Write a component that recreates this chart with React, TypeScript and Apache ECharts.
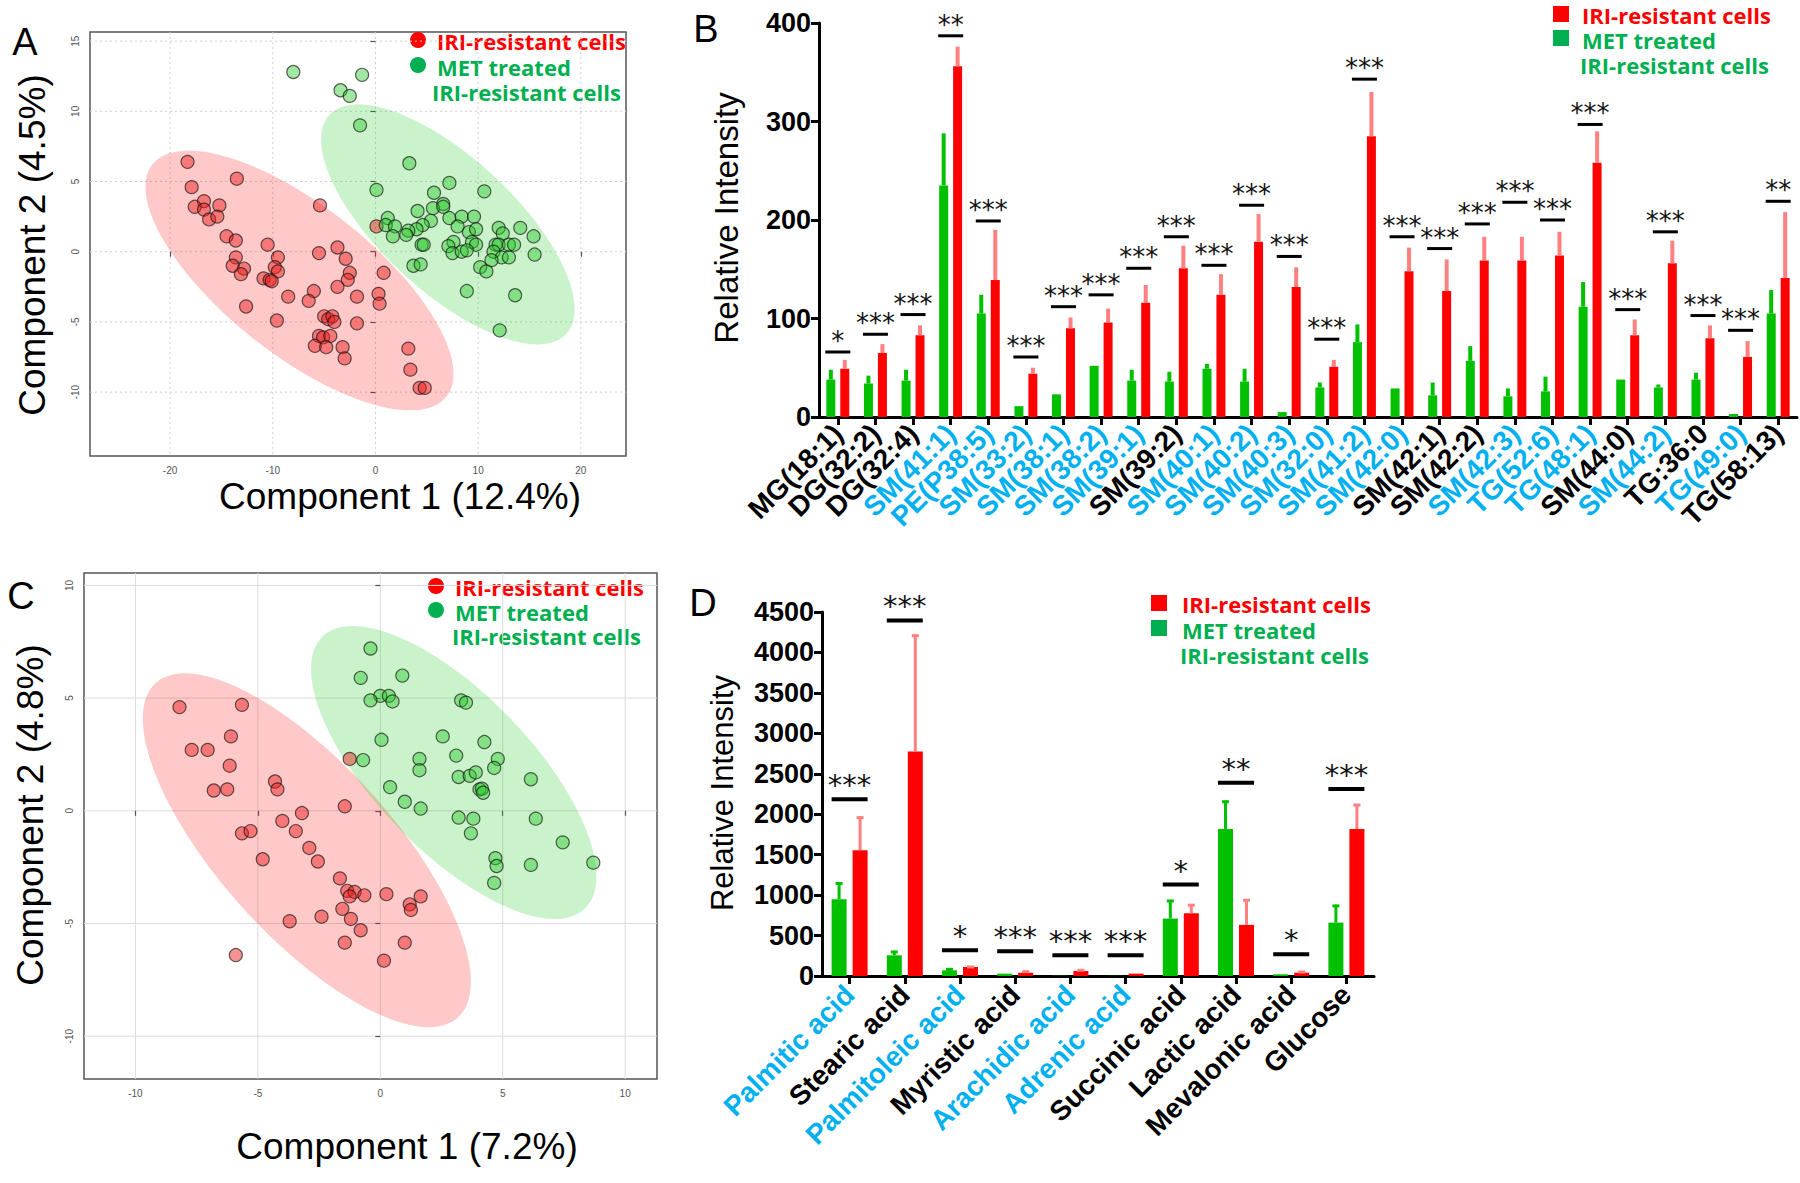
import React, { useEffect, useRef } from "react";
import * as echarts from "echarts";

// ---------- Panel A (PCA, lipids) ----------
const pcaARed: number[][] = [
  [-18.3, 6.4], [-13.5, 5.2], [-17.9, 4.6], [-16.7, 3.6], [-15.2, 3.3], [-17.6, 3.2], [-16.7, 3.0],
  [-16.2, 2.3], [-15.4, 2.5], [-5.4, 3.3], [-14.5, 1.1], [-13.6, 0.8], [-10.5, 0.5], [-3.7, 0.3],
  [-5.5, -0.1], [-9.5, -0.4], [-13.6, -0.4], [-2.9, -0.5], [-13.9, -1.0], [-12.8, -1.2], [-9.8, -1.1],
  [-9.5, -1.4], [-13.1, -1.6], [-10.9, -1.9], [-10.3, -2.0], [-10.1, -2.1], [-2.5, -1.5], [-2.7, -2.0],
  [-3.7, -2.5], [0.8, -1.5], [-6.0, -2.8], [-8.5, -3.2], [-1.8, -3.2], [0.3, -3.0], [0.4, -3.7],
  [-6.5, -3.5], [-12.6, -3.9], [-9.6, -4.9], [-5.0, -4.6], [-4.6, -4.8], [-4.2, -4.6], [-4.0, -5.0],
  [-1.8, -5.1], [-5.5, -6.0], [-5.1, -6.1], [-4.4, -6.0], [-5.9, -6.7], [-4.8, -6.8], [-3.2, -6.8],
  [-3.0, -7.6], [3.2, -6.9], [3.4, -8.4], [4.3, -9.7], [4.8, -9.7], [0.1, 1.8],
];
const pcaAGreen: number[][] = [
  [-8.0, 12.8], [-1.3, 12.6], [-3.4, 11.5], [-2.5, 11.1], [-1.5, 9.0], [3.3, 6.3], [0.1, 4.4],
  [7.2, 4.9], [10.6, 4.3], [5.7, 4.2], [6.6, 3.4], [4.1, 2.9], [5.6, 3.1], [6.6, 3.2], [1.2, 2.4],
  [7.2, 2.4], [8.4, 2.5], [9.6, 2.5], [1.0, 1.9], [1.9, 1.8], [5.4, 2.2], [4.6, 1.9], [4.0, 1.6],
  [8.0, 1.8], [12.0, 1.7], [14.1, 1.7], [3.2, 1.5], [9.1, 1.4], [9.8, 1.6], [12.4, 1.3], [1.7, 1.1],
  [3.0, 1.2], [15.4, 1.1], [4.5, 0.5], [4.7, 0.5], [7.6, 0.7], [7.1, 0.4], [9.4, 0.7], [9.8, 0.5],
  [11.7, 0.5], [12.0, 0.5], [13.0, 0.5], [13.5, 0.5], [7.5, -0.1], [8.4, 0.0], [8.9, 0.1], [11.5, 0.0],
  [15.5, -0.2], [12.3, -0.4], [13.0, -0.4], [11.3, -0.6], [3.7, -1.0], [4.4, -0.9], [10.2, -1.1],
  [10.8, -1.4], [8.9, -2.8], [13.6, -3.1], [12.1, -5.6],
];
// ellipse: [centerX, centerY, halfRangeX, halfRangeY, phaseDeg]
const ellipsesA: number[][] = [
  [-7.4, -2.05, 15.0, 9.25, 136],
  [7.05, 1.95, 12.35, 8.55, 135],
];
const ticksAX = [-20, -10, 0, 10, 20];
const ticksAY = [-10, -5, 0, 5, 10, 15];

// ---------- Panel C (PCA, metabolites) ----------
const pcaCRed: number[][] = [
  [-8.2, 4.6], [-5.65, 4.7], [-6.1, 3.3], [-7.7, 2.7], [-7.05, 2.7], [-6.15, 2.0], [-6.8, 0.9],
  [-6.25, 0.95], [-4.3, 1.3], [-4.2, 0.95], [-1.25, 2.3], [-1.45, 0.2], [-3.2, -0.1], [-4.0, -0.45],
  [-3.45, -0.9], [-5.65, -1.0], [-5.3, -0.9], [-2.9, -1.65], [-4.8, -2.15], [-2.55, -2.25],
  [-1.65, -3.0], [-1.35, -3.55], [-1.05, -3.6], [-1.25, -3.8], [-0.65, -3.75], [0.25, -3.7],
  [1.2, -4.15], [1.25, -4.4], [1.65, -3.8], [-1.55, -4.35], [-3.7, -4.9], [-2.4, -4.7], [-1.2, -4.8],
  [-0.8, -5.3], [-1.45, -5.85], [1.0, -5.85], [0.15, -6.65], [-5.9, -6.4],
];
const pcaCGreen: number[][] = [
  [-0.4, 7.2], [-0.8, 5.9], [0.9, 6.0], [0.0, 5.1], [0.35, 5.1], [-0.4, 4.9], [0.5, 4.85], [3.3, 4.9],
  [3.5, 4.8], [0.05, 3.15], [2.55, 3.3], [4.25, 3.05], [-0.7, 2.25], [1.6, 2.3], [1.6, 1.8], [3.1, 2.45],
  [4.8, 2.3], [4.65, 1.9], [3.2, 1.5], [3.65, 1.55], [3.9, 1.7], [6.15, 1.4], [4.05, 0.95], [4.15, 0.98],
  [4.2, 0.8], [0.4, 1.05], [1.0, 0.4], [1.65, 0.1], [3.2, -0.3], [3.8, -0.35], [6.35, -0.35], [3.7, -1.0],
  [7.45, -1.4], [4.7, -2.1], [4.75, -2.45], [6.15, -2.4], [8.7, -2.3], [4.65, -3.2],
];
const ellipsesC: number[][] = [
  [-3.0, -1.75, 6.7, 7.85, 138],
  [3.0, 1.7, 5.83, 6.5, 135],
];
const ticksCX = [-10, -5, 0, 5, 10];
const ticksCY = [-10, -5, 0, 5, 10];

// ---------- Panel B (lipids bars) ----------
const lipidNames = [
  "MG(18:1)", "DG(32:2)", "DG(32:4)", "SM(41:1)", "PE(P38:5)", "SM(33:2)", "SM(38:1)", "SM(38:2)",
  "SM(39:1)", "SM(39:2)", "SM(40:1)", "SM(40:2)", "SM(40:3)", "SM(32:0)", "SM(41:2)", "SM(42:0)",
  "SM(42:1)", "SM(42:2)", "SM(42:3)", "TG(52:6)", "TG(48:1)", "SM(44:0)", "SM(44:2)", "TG:36:0",
  "TG(49:0)", "TG(58:13)",
];
const lipidBlue = [
  "SM(41:1)", "PE(P38:5)", "SM(33:2)", "SM(38:1)", "SM(38:2)", "SM(39:1)", "SM(40:1)", "SM(40:2)",
  "SM(40:3)", "SM(32:0)", "SM(41:2)", "SM(42:0)", "SM(42:3)", "TG(52:6)", "TG(48:1)", "SM(44:2)", "TG(49:0)",
];
const lipidMetMean = [38, 34, 37, 235, 105, 11, 23, 52, 37, 36, 49, 36, 5, 30, 76, 29, 22, 57, 21, 26, 112, 38, 30, 38, 3, 105];
const lipidMetTop = [48, 42, 48, 288, 124, 11, 23, 52, 48, 46, 54, 49, 5, 35, 94, 29, 35, 72, 29, 41, 137, 38, 33, 45, 3, 129];
const lipidIriMean = [49, 65, 83, 356, 139, 44, 90, 96, 116, 151, 124, 178, 132, 51, 285, 148, 128, 159, 159, 164, 258, 83, 156, 80, 61, 141];
const lipidIriTop = [58, 74, 93, 376, 190, 50, 101, 110, 134, 174, 145, 206, 152, 58, 330, 172, 160, 183, 183, 188, 290, 99, 179, 93, 77, 208];
const lipidSigLevel = [66, 84, 104, 387, 199, 61, 112, 124, 151, 183, 154, 215, 163, 79, 343, 183, 171, 196, 218, 200, 297, 109, 188, 103, 88, 219];
const lipidStars = ["*", "***", "***", "**", "***", "***", "***", "***", "***", "***", "***", "***", "***", "***", "***", "***", "***", "***", "***", "***", "***", "***", "***", "***", "***", "**"];
const lipidYTicks = { min: 0, max: 400, interval: 100 };

// ---------- Panel D (metabolite bars) ----------
const metabNames = [
  "Palmitic acid", "Stearic acid", "Palmitoleic acid", "Myristic acid", "Arachidic acid",
  "Adrenic acid", "Succinic acid", "Lactic acid", "Mevalonic acid", "Glucose",
];
const metabBlue = ["Palmitic acid", "Palmitoleic acid", "Arachidic acid", "Adrenic acid"];
const metabMetMean = [950, 256, 70, 29, 3, 2, 710, 1816, 21, 660];
const metabMetTop = [1156, 310, 95, 41, 3, 2, 940, 2167, 21, 879];
const metabIriMean = [1556, 2775, 111, 41, 62, 29, 776, 632, 41, 1816];
const metabIriTop = [1970, 4220, 124, 66, 83, 41, 888, 949, 62, 2126];
const metabSigLevel = [2185, 4395, 318, 305, 256, 256, 1131, 2390, 268, 2312];
const metabStars = ["***", "***", "*", "***", "***", "***", "*", "**", "*", "***"];
const metabYTicks = { min: 0, max: 4500, interval: 500 };

// ---------- styling ----------
const RED = "#FF0000";
const GREEN_BAR = "#00C000";
const RED_ERR = "#FF8080";
const LEG_GREEN = "#00B050";
const BLUE = "#00B0F0";
const ARIAL = "Liberation Sans";
const LEGEND_FONT = "Open Sans";
const LEGEND_SIZE = 22;

function gridLineSeries(xTicks: number[], yTicks: number[], xi: number, dashed: boolean, color: string) {
  const data: number[][] = [];
  xTicks.forEach((v) => data.push([v, yTicks[0], 0]));
  yTicks.forEach((v) => data.push([xTicks[0], v, 1]));
  return {
    type: "custom",
    xAxisIndex: xi,
    yAxisIndex: xi,
    silent: true,
    z: 0,
    data,
    renderItem: (params: any, api: any) => {
      const cs = params.coordSys;
      const p = api.coord([api.value(0), api.value(1)]);
      const vertical = api.value(2) === 0;
      const shape = vertical
        ? { x1: p[0], y1: cs.y, x2: p[0], y2: cs.y + cs.height }
        : { x1: cs.x, y1: p[1], x2: cs.x + cs.width, y2: p[1] };
      return {
        type: "line",
        shape,
        style: { stroke: color, lineWidth: 1, lineDash: dashed ? [2, 3] : null },
      };
    },
  };
}

function ellipseSeries(ell: number[][], xi: number, colors: string[]) {
  return {
    type: "custom",
    xAxisIndex: xi,
    yAxisIndex: xi,
    silent: true,
    z: 1,
    data: ell,
    renderItem: (params: any, api: any) => {
      const cx = api.value(0), cy = api.value(1), ax = api.value(2), ay = api.value(3);
      const ph = (api.value(4) * Math.PI) / 180;
      const pts: number[][] = [];
      for (let i = 0; i < 120; i++) {
        const t = (i / 120) * Math.PI * 2;
        pts.push(api.coord([cx + ax * Math.cos(t), cy + ay * Math.cos(t + ph)]));
      }
      return { type: "polygon", shape: { points: pts }, style: { fill: colors[params.dataIndex] } };
    },
  };
}

function scatterSeries(data: number[][], xi: number, color: string) {
  return {
    type: "scatter",
    xAxisIndex: xi,
    yAxisIndex: xi,
    data,
    symbolSize: 13,
    z: 3,
    itemStyle: { color, borderColor: "rgba(20,20,20,0.85)", borderWidth: 1.2 },
  };
}

function errSeries(means: number[], tops: number[], xi: number, offset: number, color: string, cap: number, lw: number) {
  return {
    type: "custom",
    xAxisIndex: xi,
    yAxisIndex: xi,
    silent: true,
    z: 4,
    data: means.map((m, i) => [i, m, tops[i]]),
    renderItem: (params: any, api: any) => {
      const a = api.coord([api.value(0), api.value(1)]);
      const b = api.coord([api.value(0), api.value(2)]);
      const x = a[0] + offset;
      if (a[1] - b[1] < 1) return { type: "group", children: [] };
      const children: any[] = [
        { type: "line", shape: { x1: x, y1: a[1], x2: x, y2: b[1] }, style: { stroke: color, lineWidth: lw } },
      ];
      if (cap > 0) {
        children.push({
          type: "line",
          shape: { x1: x - cap / 2, y1: b[1] + 1, x2: x + cap / 2, y2: b[1] + 1 },
          style: { stroke: color, lineWidth: 3 },
        });
      }
      return { type: "group", children };
    },
  };
}

function sigSeries(levels: number[], stars: string[], xi: number, w: number, h: number, fs: number, gap: number) {
  return {
    type: "custom",
    xAxisIndex: xi,
    yAxisIndex: xi,
    silent: true,
    z: 5,
    data: levels.map((v, i) => [i, v]),
    renderItem: (params: any, api: any) => {
      const p = api.coord([api.value(0), api.value(1)]);
      return {
        type: "group",
        children: [
          { type: "rect", shape: { x: p[0] - w / 2, y: p[1] - h / 2, width: w, height: h }, style: { fill: "#000" } },
          {
            type: "text",
            x: p[0],
            y: p[1] - gap,
            style: {
              text: stars[params.dataIndex],
              fill: "#111",
              fontSize: fs,
              fontFamily: "DejaVu Sans",
              align: "center",
              verticalAlign: "middle",
              textAlign: "center",
              textVerticalAlign: "middle",
            },
          },
        ],
      };
    },
  };
}

function txt(text: string, x: number, y: number, size: number, opts: any = {}) {
  return {
    type: "text",
    x,
    y,
    rotation: opts.rotation || 0,
    silent: true,
    style: {
      text,
      fill: opts.color || "#000",
      fontSize: size,
      fontFamily: opts.family || ARIAL,
      fontWeight: opts.weight || "normal",
      lineHeight: opts.lineHeight || undefined,
      align: opts.align || "center",
      verticalAlign: "middle",
      textAlign: opts.align || "center",
      textVerticalAlign: "middle",
    },
  };
}

function legText(text: string, x: number, y: number, color: string) {
  return txt(text, x, y, LEGEND_SIZE, { align: "left", color, family: LEGEND_FONT, weight: "bold", lineHeight: 20 });
}

function scatterLegend(dotX: number, textX: number, line3X: number, y1: number, y2: number, y3: number) {
  return [
    { type: "circle", shape: { cx: dotX, cy: y1 - 1, r: 8 }, style: { fill: RED } },
    { type: "circle", shape: { cx: dotX, cy: y2 - 2, r: 8 }, style: { fill: LEG_GREEN } },
    legText("IRI-resistant cells", textX, y1, RED),
    legText("MET treated", textX, y2, LEG_GREEN),
    legText("IRI-resistant cells", line3X, y3, LEG_GREEN),
  ];
}

function barLegend(sqX: number, textX: number, line3X: number, y1: number, y2: number, y3: number) {
  return [
    { type: "rect", shape: { x: sqX - 8, y: y1 - 9, width: 16, height: 16 }, style: { fill: RED } },
    { type: "rect", shape: { x: sqX - 8, y: y2 - 10, width: 16, height: 16 }, style: { fill: LEG_GREEN } },
    legText("IRI-resistant cells", textX, y1, RED),
    legText("MET treated", textX, y2, LEG_GREEN),
    legText("IRI-resistant cells", line3X, y3, LEG_GREEN),
  ];
}

function pcaXAxis(gi: number, min: number, max: number, ticks: number[]) {
  return {
    type: "value",
    gridIndex: gi,
    min,
    max,
    axisLine: { show: false },
    axisTick: { show: true, customValues: ticks, length: 5, lineStyle: { color: "#555", width: 1.2 } },
    splitLine: { show: false },
    axisLabel: { customValues: ticks, fontSize: 10, color: "#555", margin: 9, fontFamily: ARIAL },
  };
}
function pcaYAxis(gi: number, min: number, max: number, ticks: number[]) {
  return {
    type: "value",
    gridIndex: gi,
    min,
    max,
    axisLine: { show: false },
    axisTick: { show: true, customValues: ticks, length: 5, lineStyle: { color: "#555", width: 1.2 } },
    splitLine: { show: false },
    axisLabel: { customValues: ticks, fontSize: 10, color: "#555", margin: 10, rotate: 90, fontFamily: ARIAL },
  };
}

function catAxis(gi: number, names: string[], blue: string[], fs: number, margin: number) {
  return {
    type: "category",
    gridIndex: gi,
    data: names.map((n) => ({ value: n, textStyle: { color: blue.indexOf(n) >= 0 ? BLUE : "#000" } })),
    axisLine: { show: true, lineStyle: { color: "#000", width: 3 } },
    axisTick: { show: true, alignWithLabel: true, length: 8, lineStyle: { color: "#000", width: 3 } },
    axisLabel: { interval: 0, rotate: 45, fontSize: fs, fontWeight: "bold", fontFamily: ARIAL, margin, color: "#000" },
    splitLine: { show: false },
  };
}
function valAxis(gi: number, t: { min: number; max: number; interval: number }, fs: number) {
  return {
    type: "value",
    gridIndex: gi,
    min: t.min,
    max: t.max,
    interval: t.interval,
    axisLine: { show: true, lineStyle: { color: "#000", width: 3 } },
    axisTick: { show: true, length: 8, lineStyle: { color: "#000", width: 3 } },
    axisLabel: {
      fontSize: fs,
      fontWeight: "bold",
      fontFamily: ARIAL,
      color: "#000",
      margin: 8,
      formatter: (v: number) => String(v),
    },
    splitLine: { show: false },
  };
}

function buildOption() {
  const gridFrame = { show: true, borderColor: "#555", borderWidth: 1.5, backgroundColor: "transparent" };
  return {
    animation: false,
    backgroundColor: "#ffffff",
    grid: [
      { left: 90, top: 32, width: 536, height: 424, ...gridFrame },
      { left: 819, top: 23, width: 978, height: 394 },
      { left: 84, top: 573, width: 573, height: 506, ...gridFrame },
      { left: 822, top: 612, width: 552, height: 364 },
    ],
    xAxis: [
      pcaXAxis(0, -27.8, 24.4, ticksAX),
      catAxis(1, lipidNames, lipidBlue, 28, 12),
      pcaXAxis(2, -12.1, 11.3, ticksCX),
      catAxis(3, metabNames, metabBlue, 28, 14),
    ],
    yAxis: [
      pcaYAxis(0, -14.55, 15.65, ticksAY),
      valAxis(1, lipidYTicks, 27),
      pcaYAxis(2, -11.9, 10.55, ticksCY),
      valAxis(3, metabYTicks, 27),
    ],
    series: [
      gridLineSeries(ticksAX, ticksAY, 0, true, "#cfcfcf"),
      ellipseSeries(ellipsesA, 0, ["rgba(255,0,0,0.21)", "rgba(20,200,20,0.22)"]),
      scatterSeries(pcaARed, 0, "rgba(235,30,30,0.6)"),
      scatterSeries(pcaAGreen, 0, "rgba(40,200,40,0.55)"),

      gridLineSeries(ticksCX, ticksCY, 2, false, "#dcdcdc"),
      ellipseSeries(ellipsesC, 2, ["rgba(255,0,0,0.21)", "rgba(20,200,20,0.22)"]),
      scatterSeries(pcaCRed, 2, "rgba(235,30,30,0.6)"),
      scatterSeries(pcaCGreen, 2, "rgba(40,200,40,0.55)"),

      { type: "bar", xAxisIndex: 1, yAxisIndex: 1, data: lipidMetMean, barWidth: 9, barGap: "55%", itemStyle: { color: GREEN_BAR }, z: 3 },
      { type: "bar", xAxisIndex: 1, yAxisIndex: 1, data: lipidIriMean, barWidth: 9, barGap: "55%", itemStyle: { color: RED }, z: 3 },
      errSeries(lipidMetMean, lipidMetTop, 1, -7, GREEN_BAR, 0, 4),
      errSeries(lipidIriMean, lipidIriTop, 1, 7, RED_ERR, 0, 4),
      sigSeries(lipidSigLevel, lipidStars, 1, 25, 3, 26, 11),

      { type: "bar", xAxisIndex: 3, yAxisIndex: 3, data: metabMetMean, barWidth: 15, barGap: "40%", itemStyle: { color: GREEN_BAR }, z: 3 },
      { type: "bar", xAxisIndex: 3, yAxisIndex: 3, data: metabIriMean, barWidth: 15, barGap: "40%", itemStyle: { color: RED }, z: 3 },
      errSeries(metabMetMean, metabMetTop, 3, -10.5, GREEN_BAR, 7, 3),
      errSeries(metabIriMean, metabIriTop, 3, 10.5, RED_ERR, 7, 3),
      sigSeries(metabSigLevel, metabStars, 3, 36, 4, 29, 14),
    ],
    graphic: [
      txt("A", 25, 42, 38),
      txt("B", 706, 29, 38),
      txt("C", 21, 596, 38),
      txt("D", 703, 603, 38),
      txt("Component 2 (4.5%)", 32, 245, 37, { rotation: Math.PI / 2 }),
      txt("Component 1 (12.4%)", 400, 496, 37),
      txt("Component 2 (4.8%)", 30, 815, 37, { rotation: Math.PI / 2 }),
      txt("Component 1 (7.2%)", 407, 1146, 37),
      txt("Relative Intensity", 726, 218, 33, { rotation: Math.PI / 2 }),
      txt("Relative Intensity", 722, 793, 31, { rotation: Math.PI / 2 }),
      ...scatterLegend(418, 437, 432, 41, 67, 92),
      ...scatterLegend(436, 455, 452, 587, 612, 636),
      ...barLegend(1561, 1582, 1580, 15, 40, 65),
      ...barLegend(1159, 1182, 1180, 604, 630, 655),
    ],
  };
}

export default function App() {
  const ref = useRef<HTMLDivElement>(null);
  useEffect(() => {
    if (!ref.current) return;
    const chart = echarts.init(ref.current, null, { renderer: "svg" });
    chart.setOption(buildOption() as any);
    return () => chart.dispose();
  }, []);
  return (
    <div
      ref={ref}
      style={{ position: "absolute", left: 0, top: 0, width: 1800, height: 1183, background: "#fff" }}
    />
  );
}
